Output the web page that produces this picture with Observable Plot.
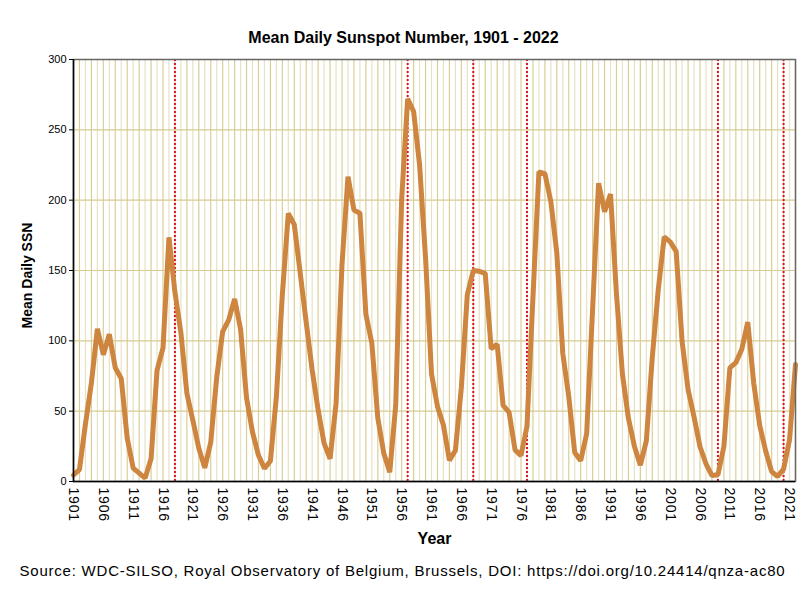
<!DOCTYPE html>
<html>
<head>
<meta charset="utf-8">
<script src="https://cdn.jsdelivr.net/npm/d3@7"></script>
<script src="https://cdn.jsdelivr.net/npm/@observablehq/plot@0.6"></script>
<style>
  body { margin: 0; background: #fff; }
  svg g[aria-label="x-axis tick label"],
  svg g[aria-label="x-axis tick label"] text {
    font-size: 14px !important;
    letter-spacing: 0.8px;
  }
</style>
</head>
<body>
<div id="chart"></div>
<script>
const years = [1901,1902,1903,1904,1905,1906,1907,1908,1909,1910,
  1911,1912,1913,1914,1915,1916,1917,1918,1919,1920,
  1921,1922,1923,1924,1925,1926,1927,1928,1929,1930,
  1931,1932,1933,1934,1935,1936,1937,1938,1939,1940,
  1941,1942,1943,1944,1945,1946,1947,1948,1949,1950,
  1951,1952,1953,1954,1955,1956,1957,1958,1959,1960,
  1961,1962,1963,1964,1965,1966,1967,1968,1969,1970,
  1971,1972,1973,1974,1975,1976,1977,1978,1979,1980,
  1981,1982,1983,1984,1985,1986,1987,1988,1989,1990,
  1991,1992,1993,1994,1995,1996,1997,1998,1999,2000,
  2001,2002,2003,2004,2005,2006,2007,2008,2009,2010,
  2011,2012,2013,2014,2015,2016,2017,2018,2019,2020,
  2021,2022];
const ssn = [4.6,8.5,40.8,70.1,108.5,90.1,104.8,80.9,73.2,30.9,
  9.5,6.0,2.4,16.1,79.0,95.0,173.6,134.6,105.7,62.7,
  43.5,23.7,9.7,27.9,74.0,106.5,114.7,129.7,108.2,59.4,
  35.1,18.6,9.2,14.6,60.2,132.8,190.6,182.6,148.0,113.0,
  79.2,50.8,27.1,16.1,55.3,154.3,216.7,193.0,190.7,118.9,
  98.3,45.0,20.1,6.6,54.2,200.7,272.0,263.0,225.1,159.0,
  76.4,53.4,39.9,15.0,22.0,66.8,132.9,150.0,149.4,148.0,
  94.4,97.6,54.1,49.2,22.5,18.4,39.3,131.0,220.1,218.9,
  198.9,162.4,91.0,60.5,20.6,14.8,33.9,123.0,212.1,191.8,
  204.3,133.0,76.1,44.9,25.1,11.6,28.9,88.3,136.3,173.9,
  170.4,163.6,99.3,65.3,45.8,24.7,12.6,4.2,4.8,24.9,
  80.8,84.5,94.0,113.3,69.8,39.8,21.7,7.0,3.6,8.8,
  29.6,83.2];
const markerYears = [1918, 1957, 1968, 1977, 2009, 2020];
const xTicks = [1901,1906,1911,1916,1921,1926,1931,1936,1941,1946,1951,1956,1961,1966,1971,1976,1981,1986,1991,1996,2001,2006,2011,2016,2021];
const yTicks = [0,50,100,150,200,250,300];
const titleText = "Mean Daily Sunspot Number, 1901 - 2022";
const yLabelText = "Mean Daily SSN";
const xLabelText = "Year";
const captionText = "Source: WDC-SILSO, Royal Observatory of Belgium, Brussels, DOI: https://doi.org/10.24414/qnza-ac80";

const data = years.map((y, i) => ({year: y, ssn: ssn[i]}));

const chart = Plot.plot({
  width: 806,
  height: 599,
  marginTop: 59,
  marginBottom: 118,
  marginLeft: 73,
  marginRight: 11,
  style: {fontFamily: "Liberation Sans, Arial, sans-serif", background: "#fff", color: "#000"},
  x: {domain: [1901, 2022]},
  y: {domain: [0, 300]},
  marks: [
    Plot.ruleX(years, {x: d => d, stroke: (d, i) => i % 2 ? "#d9cf96" : "#e6e2c4", strokeWidth: 1.2}),
    Plot.ruleY(yTicks, {y: d => d, stroke: "#d6cc92", strokeWidth: 1.2}),
    Plot.ruleX(markerYears, {x: d => d, stroke: "#e0102f", strokeWidth: 2, strokeDasharray: "2,2"}),
    Plot.line(data, {x: "year", y: "ssn", stroke: "#cd853f", strokeWidth: 5, strokeLinejoin: "miter"}),
    Plot.frame({stroke: "#666", strokeWidth: 1.5}),
    Plot.ruleY([0], {stroke: "#000", strokeWidth: 1.5}),
    Plot.ruleX([1901], {stroke: "#000", strokeWidth: 1.5}),
    Plot.axisX({ticks: xTicks, tickFormat: d => String(d), tickRotate: 90, tickSize: 0, tickPadding: 6, label: null}),
    Plot.axisY({ticks: yTicks, tickSize: 4, tickPadding: 3, fontSize: 11, label: null}),
    Plot.text([titleText], {text: d => d, frameAnchor: "top-left", dx: 330, dy: -28, textAnchor: "middle", fontSize: 16, fontWeight: "bold"}),
    Plot.text([yLabelText], {text: d => d, frameAnchor: "left", dx: -46, dy: 5, rotate: -90, textAnchor: "middle", fontSize: 14, fontWeight: "bold"}),
    Plot.text([xLabelText], {text: d => d, frameAnchor: "bottom", dy: 62, textAnchor: "middle", fontSize: 16, fontWeight: "bold"}),
    Plot.text([captionText], {text: d => d, frameAnchor: "bottom-left", dx: -54, dy: 94, textAnchor: "start", fontSize: 15})
  ]
});
d3.select(chart).selectAll("text").filter(function() { return this.textContent === captionText; }).style("letter-spacing", "0.78px");
document.getElementById("chart").appendChild(chart);
</script>
</body>
</html>
